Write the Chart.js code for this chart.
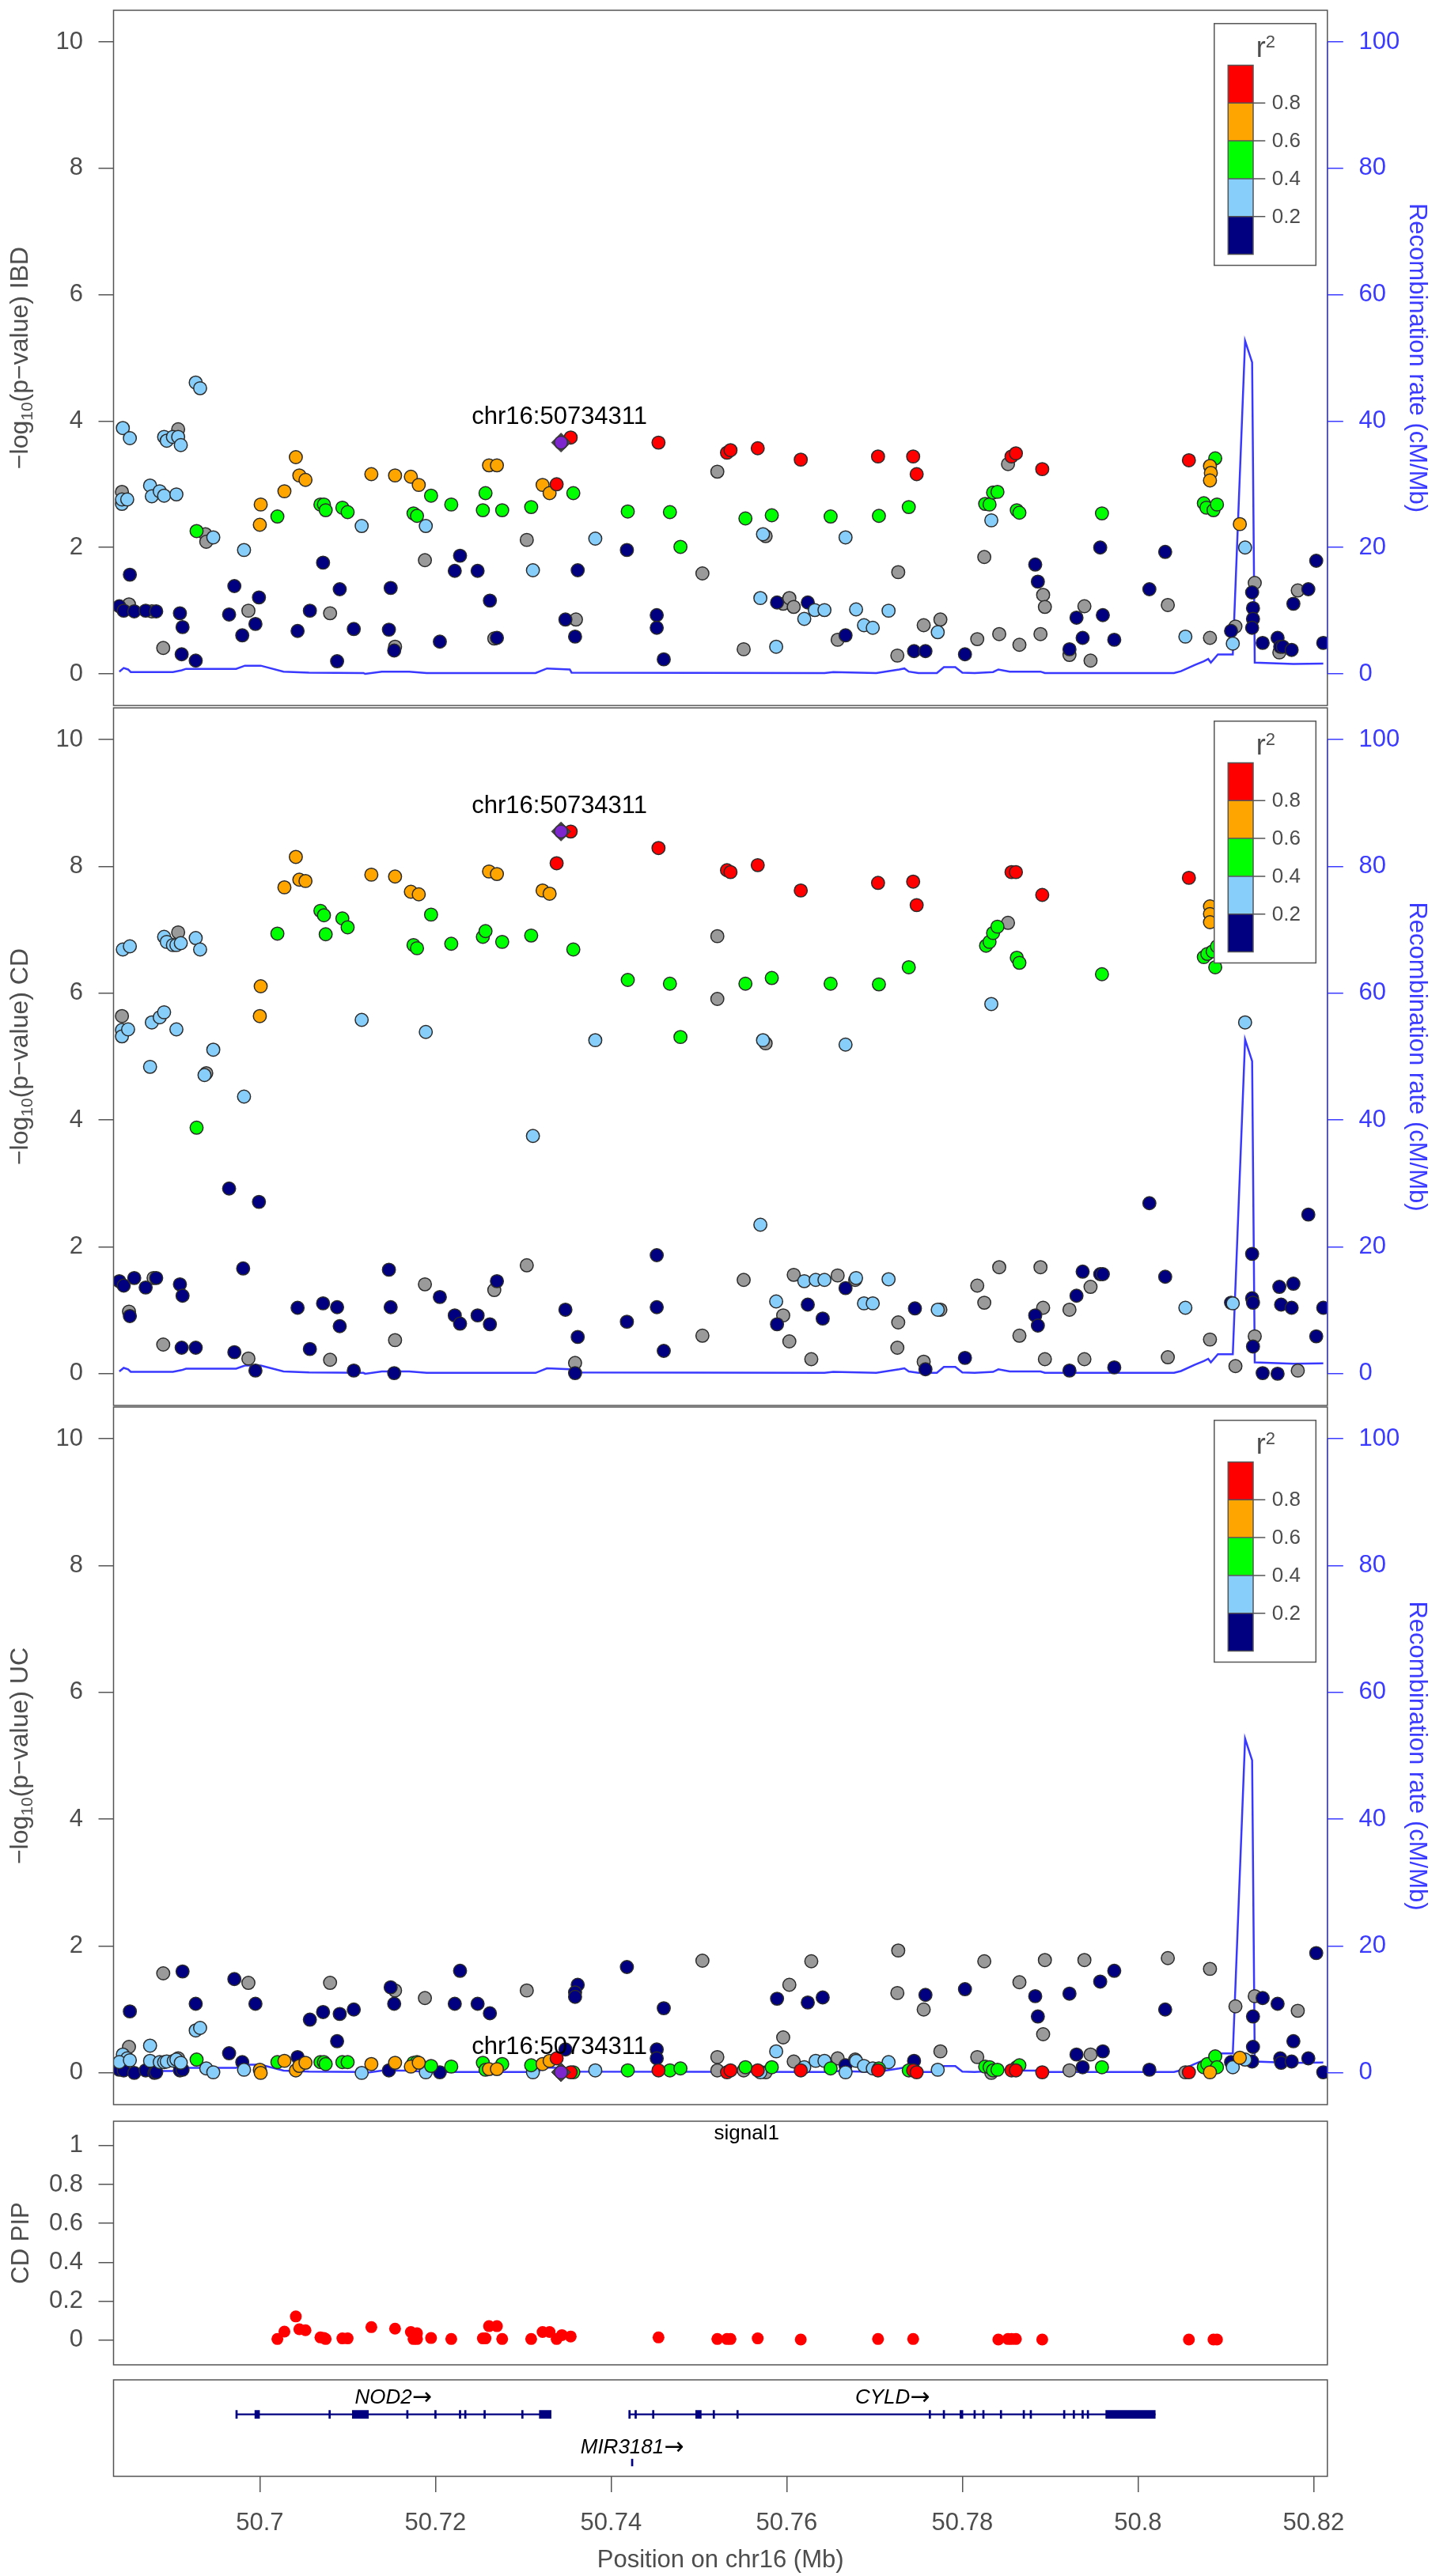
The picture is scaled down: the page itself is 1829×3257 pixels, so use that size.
<!DOCTYPE html>
<html>
<head>
<meta charset="utf-8">
<script src="https://cdn.jsdelivr.net/npm/chart.js@4.4.1/dist/chart.umd.min.js"></script>
<style>
  html, body { margin: 0; padding: 0; background: #fff; }
  body { width: 1829px; height: 3257px; position: relative; overflow: hidden; }
  canvas { position: absolute; left: 0; }
</style>
</head>
<body>
<canvas id="ibdChart" width="1829" height="905" style="top:0px"></canvas>
<canvas id="cdChart" width="1829" height="910" style="top:880px"></canvas>
<canvas id="ucChart" width="1829" height="910" style="top:1764px"></canvas>
<canvas id="pipChart" width="1829" height="330" style="top:2670px"></canvas>
<canvas id="geneChart" width="1829" height="261" style="top:2996px"></canvas>
<script>

// TICKS

const xTicks = [50.7, 50.72, 50.74, 50.76, 50.78, 50.8, 50.82];
const yTicks = [0, 2, 4, 6, 8, 10];
const recTicks = [0, 20, 40, 60, 80, 100];
const pipTicks = [0, 0.2, 0.4, 0.6, 0.8, 1];
const legendBreaks = ["0.8", "0.6", "0.4", "0.2"];


// LEAD SNP

const leadName = "chr16:50734311";
const leadPos = 50.7343;
const leadIbd = 3.66;
const leadCd = 8.55;
const leadUc = 0.01;


// SNPS  [position Mb, -log10 p, r2 class]
// r2 class: n <0.2, l 0.2-0.4, g 0.4-0.6, o 0.6-0.8, r >0.8, x no LD

const ibdSnps = [
  [50.6844,3.89,'l'],[50.6852,3.73,'l'],[50.6843,2.88,'x'],[50.6843,2.69,'l'],[50.6843,2.76,'l'],
  [50.6849,2.76,'l'],[50.6852,1.57,'n'],[50.6840,1.07,'n'],[50.6845,1.00,'n'],[50.6851,1.10,'x'],
  [50.6857,0.99,'n'],[50.6870,1.00,'n'],[50.6877,0.99,'x'],[50.6882,0.99,'n'],[50.6890,0.41,'x'],
  [50.6909,0.96,'n'],[50.6912,0.74,'n'],[50.6911,0.31,'n'],[50.6927,0.21,'n'],[50.6875,2.98,'l'],
  [50.6877,2.81,'l'],[50.6886,2.89,'l'],[50.6891,2.82,'l'],[50.6905,2.84,'l'],[50.6891,3.75,'l'],
  [50.6894,3.69,'l'],[50.6901,3.75,'l'],[50.6907,3.87,'x'],[50.6907,3.75,'l'],[50.6910,3.62,'l'],
  [50.6927,4.61,'l'],[50.6932,4.52,'l'],[50.6928,2.26,'g'],[50.6938,2.21,'x'],[50.6939,2.09,'x'],
  [50.6947,2.16,'l'],[50.6982,1.96,'l'],[50.6965,0.94,'n'],[50.6971,1.39,'n'],[50.6987,1.00,'x'],
  [50.6980,0.61,'n'],[50.6995,0.79,'n'],[50.6999,1.21,'n'],[50.7001,2.68,'o'],[50.7000,2.36,'o'],
  [50.7020,2.49,'g'],[50.7028,2.89,'o'],[50.7041,3.43,'o'],[50.7045,3.14,'o'],[50.7052,3.07,'o'],
  [50.7043,0.68,'n'],[50.7057,1.00,'n'],[50.7080,0.96,'x'],[50.7072,1.76,'n'],[50.7091,1.34,'n'],
  [50.7088,0.20,'n'],[50.7107,0.71,'n'],[50.7069,2.68,'g'],[50.7073,2.68,'g'],[50.7075,2.59,'g'],
  [50.7094,2.63,'g'],[50.7100,2.56,'g'],[50.7116,2.34,'l'],[50.7127,3.16,'o'],[50.7149,1.36,'n'],
  [50.7147,0.70,'n'],[50.7154,0.43,'x'],[50.7153,0.37,'n'],[50.7154,3.14,'o'],[50.7172,3.12,'o'],
  [50.7181,2.99,'o'],[50.7195,2.82,'g'],[50.7175,2.54,'g'],[50.7179,2.50,'g'],[50.7189,2.34,'l'],
  [50.7188,1.80,'x'],[50.7205,0.51,'n'],[50.7218,2.68,'g'],[50.7222,1.63,'n'],[50.7228,1.87,'n'],
  [50.7248,1.63,'n'],[50.7262,1.16,'n'],[50.7267,0.56,'x'],[50.7270,0.57,'n'],[50.7257,2.86,'g'],
  [50.7254,2.59,'g'],[50.7261,3.30,'o'],[50.7270,3.30,'o'],[50.7276,2.59,'g'],[50.7304,2.12,'x'],
  [50.7311,1.64,'l'],[50.7309,2.64,'g'],[50.7322,2.99,'o'],[50.7330,2.86,'o'],[50.7338,3.00,'r'],
  [50.7354,3.74,'r'],[50.7357,2.86,'g'],[50.7362,1.64,'n'],[50.7348,0.86,'n'],[50.7360,0.86,'x'],
  [50.7359,0.59,'n'],[50.7382,2.14,'l'],[50.7419,2.57,'g'],[50.7418,1.96,'n'],[50.7454,3.66,'r'],
  [50.7452,0.93,'n'],[50.7452,0.73,'n'],[50.7460,0.23,'n'],[50.7467,2.56,'g'],[50.7479,2.01,'g'],
  [50.7504,1.59,'x'],[50.7521,3.20,'x'],[50.7532,3.50,'r'],[50.7536,3.54,'r'],[50.7567,3.57,'r'],
  [50.7616,3.39,'r'],[50.7553,2.46,'g'],[50.7583,2.51,'g'],[50.7573,2.21,'l'],[50.7576,2.18,'x'],
  [50.7570,1.20,'l'],[50.7589,1.13,'n'],[50.7596,1.11,'x'],[50.7603,1.20,'x'],[50.7608,1.06,'x'],
  [50.7624,1.13,'n'],[50.7620,0.87,'l'],[50.7632,1.01,'l'],[50.7643,1.01,'l'],[50.7551,0.39,'x'],
  [50.7588,0.43,'l'],[50.7650,2.49,'g'],[50.7667,2.16,'l'],[50.7658,0.54,'x'],[50.7667,0.61,'n'],
  [50.7679,1.02,'l'],[50.7688,0.77,'l'],[50.7698,0.73,'l'],[50.7716,1.00,'l'],[50.7704,3.44,'r'],
  [50.7705,2.50,'g'],[50.7727,1.61,'x'],[50.7726,0.29,'x'],[50.7745,0.36,'n'],[50.7758,0.36,'n'],
  [50.7744,3.44,'r'],[50.7748,3.16,'r'],[50.7739,2.64,'g'],[50.7756,0.77,'x'],[50.7775,0.86,'x'],
  [50.7772,0.66,'l'],[50.7803,0.31,'n'],[50.7817,0.55,'x'],[50.7842,0.63,'x'],[50.7825,1.85,'x'],
  [50.7826,2.69,'g'],[50.7831,2.68,'g'],[50.7835,2.87,'g'],[50.7840,2.88,'g'],[50.7833,2.43,'l'],
  [50.7852,3.32,'x'],[50.7856,3.44,'r'],[50.7861,3.49,'r'],[50.7862,2.59,'g'],[50.7865,2.55,'g'],
  [50.7891,3.24,'r'],[50.7883,1.73,'n'],[50.7886,1.46,'n'],[50.7892,1.25,'x'],[50.7894,1.06,'x'],
  [50.7865,0.46,'x'],[50.7889,0.63,'x'],[50.7922,0.39,'n'],[50.7922,0.30,'x'],[50.7930,0.89,'n'],
  [50.7939,1.07,'x'],[50.7937,0.57,'n'],[50.7946,0.21,'x'],[50.7960,0.93,'n'],[50.7973,0.54,'n'],
  [50.7959,2.54,'g'],[50.7957,2.00,'n'],[50.8013,1.34,'n'],[50.8031,1.93,'n'],[50.8034,1.09,'x'],
  [50.8058,3.38,'r'],[50.8054,0.59,'l'],[50.8082,0.57,'x'],[50.8082,3.29,'o'],[50.8083,3.18,'o'],
  [50.8082,3.06,'o'],[50.8088,3.41,'g'],[50.8075,2.70,'g'],[50.8078,2.63,'g'],[50.8086,2.59,'g'],
  [50.8090,2.68,'g'],[50.8116,2.37,'o'],[50.8122,2.00,'l'],[50.8106,0.68,'n'],[50.8111,0.75,'x'],
  [50.8108,0.48,'l'],[50.8133,1.44,'x'],[50.8130,1.29,'n'],[50.8131,1.04,'n'],[50.8131,0.87,'n'],
  [50.8130,0.73,'n'],[50.8142,0.49,'n'],[50.8159,0.57,'n'],[50.8162,0.43,'n'],[50.8161,0.34,'x'],
  [50.8165,0.43,'n'],[50.8175,0.38,'n'],[50.8182,1.32,'x'],[50.8177,1.11,'n'],[50.8194,1.34,'n'],
  [50.8203,1.79,'n'],[50.8211,0.49,'n']
];

const cdSnps = [
  [50.6844,6.69,'l'],[50.6852,6.74,'l'],[50.6843,5.64,'x'],[50.6843,5.42,'l'],[50.6843,5.32,'l'],
  [50.6850,5.43,'l'],[50.6877,5.54,'l'],[50.6886,5.62,'l'],[50.6891,5.70,'l'],[50.6875,4.84,'l'],
  [50.6905,5.43,'l'],[50.6891,6.89,'l'],[50.6894,6.81,'l'],[50.6901,6.76,'l'],[50.6905,6.76,'l'],
  [50.6907,6.96,'x'],[50.6910,6.79,'l'],[50.6927,6.87,'l'],[50.6932,6.69,'l'],[50.6939,4.74,'x'],
  [50.6937,4.71,'l'],[50.6947,5.11,'l'],[50.6928,3.88,'g'],[50.6982,4.37,'l'],[50.6965,2.92,'n'],
  [50.6999,2.71,'n'],[50.6981,1.66,'n'],[50.6840,1.46,'n'],[50.6845,1.39,'n'],[50.6857,1.51,'n'],
  [50.6870,1.36,'n'],[50.6879,1.51,'x'],[50.6882,1.51,'n'],[50.6851,0.98,'x'],[50.6852,0.91,'n'],
  [50.6890,0.46,'x'],[50.6909,1.41,'n'],[50.6912,1.23,'n'],[50.6911,0.41,'n'],[50.6927,0.41,'n'],
  [50.6971,0.34,'n'],[50.6987,0.24,'x'],[50.6995,0.05,'n'],[50.7001,6.11,'o'],[50.7000,5.64,'o'],
  [50.7020,6.94,'g'],[50.7028,7.67,'o'],[50.7041,8.15,'o'],[50.7045,7.79,'o'],[50.7052,7.77,'o'],
  [50.7069,7.30,'g'],[50.7073,7.23,'g'],[50.7075,6.93,'g'],[50.7094,7.18,'g'],[50.7100,7.04,'g'],
  [50.7043,1.04,'n'],[50.7057,0.39,'n'],[50.7072,1.11,'n'],[50.7080,0.22,'x'],[50.7088,1.05,'n'],
  [50.7091,0.75,'n'],[50.7107,0.05,'n'],[50.7116,5.58,'l'],[50.7127,7.87,'o'],[50.7154,7.84,'o'],
  [50.7172,7.60,'o'],[50.7181,7.56,'o'],[50.7195,7.24,'g'],[50.7175,6.76,'g'],[50.7179,6.71,'g'],
  [50.7189,5.39,'l'],[50.7147,1.64,'n'],[50.7149,1.05,'n'],[50.7154,0.53,'x'],[50.7153,0.01,'n'],
  [50.7188,1.41,'x'],[50.7205,1.21,'n'],[50.7222,0.92,'n'],[50.7228,0.79,'n'],[50.7218,6.78,'g'],
  [50.7248,0.92,'n'],[50.7262,0.78,'n'],[50.7267,1.32,'x'],[50.7270,1.46,'n'],[50.7254,6.89,'g'],
  [50.7257,6.98,'g'],[50.7261,7.92,'o'],[50.7270,7.88,'o'],[50.7276,6.81,'g'],[50.7304,1.71,'x'],
  [50.7311,3.75,'l'],[50.7309,6.91,'g'],[50.7322,7.62,'o'],[50.7330,7.57,'o'],[50.7338,8.05,'r'],
  [50.7354,8.55,'r'],[50.7357,6.69,'g'],[50.7348,1.01,'n'],[50.7362,0.58,'n'],[50.7359,0.17,'x'],
  [50.7359,0.01,'n'],[50.7382,5.26,'l'],[50.7419,6.21,'g'],[50.7467,6.15,'g'],[50.7479,5.31,'g'],
  [50.7454,8.29,'r'],[50.7418,0.82,'n'],[50.7452,1.87,'n'],[50.7452,1.05,'n'],[50.7460,0.36,'n'],
  [50.7504,0.60,'x'],[50.7521,6.90,'x'],[50.7521,5.91,'x'],[50.7532,7.94,'r'],[50.7536,7.91,'r'],
  [50.7567,8.02,'r'],[50.7616,7.62,'r'],[50.7704,7.74,'r'],[50.7744,7.76,'r'],[50.7748,7.39,'r'],
  [50.7856,7.91,'r'],[50.7861,7.91,'r'],[50.7891,7.55,'r'],[50.8058,7.82,'r'],[50.7553,6.15,'g'],
  [50.7583,6.24,'g'],[50.7650,6.15,'g'],[50.7705,6.14,'g'],[50.7739,6.41,'g'],[50.7959,6.30,'g'],
  [50.7573,5.26,'l'],[50.7576,5.21,'x'],[50.7667,5.19,'l'],[50.7833,5.83,'l'],[50.7570,2.35,'l'],
  [50.8122,5.54,'l'],[50.7827,6.75,'g'],[50.7831,6.81,'g'],[50.7835,6.95,'g'],[50.7840,7.05,'g'],
  [50.7852,7.11,'x'],[50.7862,6.56,'g'],[50.7865,6.48,'g'],[50.8082,7.37,'o'],[50.8082,7.25,'o'],
  [50.8082,7.12,'o'],[50.8075,6.57,'g'],[50.8079,6.62,'g'],[50.8085,6.66,'g'],[50.8088,6.41,'g'],
  [50.8090,6.74,'g'],[50.7551,1.48,'x'],[50.7608,1.56,'x'],[50.7620,1.46,'l'],[50.7633,1.48,'l'],
  [50.7643,1.48,'l'],[50.7658,1.55,'x'],[50.7667,1.35,'n'],[50.7679,1.51,'l'],[50.7678,1.48,'x'],
  [50.7688,1.11,'l'],[50.7698,1.11,'l'],[50.7716,1.49,'l'],[50.7588,1.14,'l'],[50.7589,0.78,'n'],
  [50.7596,0.92,'x'],[50.7603,0.51,'x'],[50.7624,1.09,'n'],[50.7641,0.87,'n'],[50.7628,0.23,'x'],
  [50.7727,0.81,'x'],[50.7726,0.41,'x'],[50.7746,1.03,'n'],[50.7756,0.19,'x'],[50.7758,0.07,'n'],
  [50.7772,1.01,'l'],[50.7775,1.01,'x'],[50.7803,0.25,'n'],[50.7817,1.39,'x'],[50.7825,1.12,'x'],
  [50.7842,1.68,'x'],[50.7865,0.60,'x'],[50.7889,1.68,'x'],[50.7892,1.04,'x'],[50.7883,0.92,'n'],
  [50.7886,0.76,'n'],[50.7894,0.23,'x'],[50.7922,0.05,'n'],[50.7922,1.01,'x'],[50.7930,1.23,'n'],
  [50.7937,1.61,'n'],[50.7946,1.37,'x'],[50.7957,1.57,'n'],[50.7960,1.57,'n'],[50.7939,0.23,'x'],
  [50.7973,0.10,'n'],[50.8013,2.69,'n'],[50.8031,1.53,'n'],[50.8034,0.26,'x'],[50.8054,1.04,'l'],
  [50.8082,0.54,'x'],[50.8106,1.12,'n'],[50.8108,1.11,'l'],[50.8111,0.12,'x'],[50.8130,1.89,'n'],
  [50.8130,1.19,'n'],[50.8131,1.12,'n'],[50.8133,0.59,'x'],[50.8131,0.43,'n'],[50.8142,0.01,'n'],
  [50.8159,0.00,'n'],[50.8161,1.37,'n'],[50.8163,1.09,'n'],[50.8175,1.04,'n'],[50.8177,1.42,'n'],
  [50.8182,0.05,'x'],[50.8194,2.51,'n'],[50.8203,0.59,'n'],[50.8211,1.04,'n']
];

const ucSnps = [
  [50.6852,0.97,'n'],[50.6851,0.41,'x'],[50.6875,0.43,'l'],[50.6890,1.57,'x'],[50.6912,1.60,'n'],
  [50.6927,1.09,'n'],[50.6927,0.67,'l'],[50.6932,0.71,'l'],[50.6844,0.29,'l'],[50.6849,0.23,'l'],
  [50.6840,0.17,'l'],[50.6852,0.20,'l'],[50.6840,0.05,'n'],[50.6845,0.04,'n'],[50.6857,0.00,'n'],
  [50.6870,0.04,'n'],[50.6880,0.00,'n'],[50.6882,0.01,'n'],[50.6875,0.19,'l'],[50.6886,0.17,'l'],
  [50.6891,0.17,'l'],[50.6894,0.18,'l'],[50.6902,0.19,'l'],[50.6905,0.21,'l'],[50.6907,0.23,'x'],
  [50.6910,0.16,'l'],[50.6909,0.04,'n'],[50.6912,0.05,'n'],[50.6928,0.21,'g'],[50.6939,0.07,'l'],
  [50.6947,0.01,'l'],[50.6965,0.31,'n'],[50.6971,1.48,'n'],[50.6987,1.42,'x'],[50.6995,1.09,'n'],
  [50.6980,0.17,'n'],[50.6982,0.05,'l'],[50.7000,0.05,'o'],[50.7001,0.00,'o'],[50.7020,0.17,'g'],
  [50.7028,0.19,'o'],[50.7041,0.04,'o'],[50.7043,0.25,'n'],[50.7045,0.11,'o'],[50.7052,0.16,'o'],
  [50.7057,0.84,'n'],[50.7072,0.96,'n'],[50.7080,1.42,'x'],[50.7088,0.50,'n'],[50.7091,0.93,'n'],
  [50.7107,1.00,'n'],[50.7069,0.17,'g'],[50.7073,0.17,'g'],[50.7075,0.14,'g'],[50.7094,0.17,'g'],
  [50.7100,0.17,'g'],[50.7116,0.00,'l'],[50.7127,0.14,'o'],[50.7149,1.35,'n'],[50.7154,1.30,'x'],
  [50.7153,1.09,'n'],[50.7147,0.04,'n'],[50.7154,0.16,'o'],[50.7172,0.10,'o'],[50.7181,0.16,'o'],
  [50.7175,0.16,'g'],[50.7179,0.17,'g'],[50.7195,0.11,'g'],[50.7189,0.01,'l'],[50.7188,1.18,'x'],
  [50.7205,0.01,'n'],[50.7218,0.10,'g'],[50.7222,1.09,'n'],[50.7228,1.61,'n'],[50.7248,1.09,'n'],
  [50.7262,0.94,'n'],[50.7254,0.16,'g'],[50.7257,0.05,'g'],[50.7261,0.06,'o'],[50.7270,0.06,'o'],
  [50.7276,0.14,'g'],[50.7304,1.30,'x'],[50.7311,0.01,'l'],[50.7309,0.12,'g'],[50.7322,0.14,'o'],
  [50.7330,0.19,'o'],[50.7338,0.23,'r'],[50.7354,0.01,'r'],[50.7357,0.01,'g'],[50.7348,0.37,'n'],
  [50.7362,1.39,'n'],[50.7359,1.27,'n'],[50.7359,1.20,'n'],[50.7382,0.04,'l'],[50.7419,0.04,'g'],
  [50.7418,1.67,'n'],[50.7454,0.04,'r'],[50.7452,0.37,'n'],[50.7452,0.23,'n'],[50.7460,1.02,'n'],
  [50.7467,0.04,'g'],[50.7479,0.07,'g'],[50.7504,1.77,'x'],[50.7521,0.25,'x'],[50.7521,0.04,'x'],
  [50.7532,0.01,'r'],[50.7536,0.04,'r'],[50.7553,0.09,'g'],[50.7551,0.04,'x'],[50.7567,0.04,'r'],
  [50.7570,0.01,'l'],[50.7576,0.01,'x'],[50.7583,0.09,'g'],[50.7589,1.17,'n'],[50.7596,0.56,'x'],
  [50.7588,0.34,'l'],[50.7603,1.39,'x'],[50.7608,0.18,'x'],[50.7616,0.04,'r'],[50.7620,0.09,'l'],
  [50.7624,1.11,'n'],[50.7628,1.76,'x'],[50.7641,1.19,'n'],[50.7633,0.19,'l'],[50.7643,0.19,'l'],
  [50.7650,0.07,'g'],[50.7658,0.23,'x'],[50.7667,0.12,'n'],[50.7667,0.01,'l'],[50.7679,0.19,'l'],
  [50.7678,0.21,'x'],[50.7688,0.11,'l'],[50.7698,0.07,'l'],[50.7705,0.07,'g'],[50.7704,0.04,'r'],
  [50.7716,0.17,'l'],[50.7727,1.93,'x'],[50.7726,1.26,'x'],[50.7745,0.19,'n'],[50.7758,1.23,'n'],
  [50.7756,1.00,'x'],[50.7739,0.04,'g'],[50.7744,0.04,'r'],[50.7748,0.01,'r'],[50.7772,0.05,'l'],
  [50.7775,0.34,'x'],[50.7803,1.32,'n'],[50.7817,0.25,'x'],[50.7825,1.76,'x'],[50.7826,0.10,'g'],
  [50.7831,0.09,'g'],[50.7835,0.04,'g'],[50.7840,0.05,'g'],[50.7833,0.00,'x'],[50.7856,0.04,'r'],
  [50.7861,0.04,'r'],[50.7862,0.09,'g'],[50.7865,0.12,'g'],[50.7865,1.43,'x'],[50.7883,1.21,'n'],
  [50.7886,0.89,'n'],[50.7892,0.61,'x'],[50.7894,1.78,'x'],[50.7891,0.01,'r'],[50.7922,1.25,'n'],
  [50.7922,0.04,'x'],[50.7930,0.29,'n'],[50.7937,0.09,'n'],[50.7939,1.78,'x'],[50.7946,0.29,'x'],
  [50.7957,1.44,'n'],[50.7960,0.34,'n'],[50.7959,0.09,'g'],[50.7973,1.61,'n'],[50.8013,0.05,'n'],
  [50.8031,1.00,'n'],[50.8034,1.81,'x'],[50.8054,0.01,'x'],[50.8058,0.01,'r'],[50.8082,1.64,'x'],
  [50.8075,0.09,'g'],[50.8079,0.14,'g'],[50.8088,0.26,'g'],[50.8090,0.09,'g'],[50.8082,0.01,'o'],
  [50.8116,0.24,'o'],[50.8108,0.09,'l'],[50.8106,0.17,'n'],[50.8111,1.05,'x'],[50.8122,0.21,'l'],
  [50.8133,1.21,'x'],[50.8142,1.18,'n'],[50.8131,0.89,'n'],[50.8131,0.41,'n'],[50.8130,0.18,'n'],
  [50.8159,1.09,'n'],[50.8162,0.23,'n'],[50.8163,0.16,'n'],[50.8175,0.18,'n'],[50.8177,0.50,'n'],
  [50.8182,0.98,'x'],[50.8194,0.23,'n'],[50.8203,1.89,'n'],[50.8211,0.01,'n']
];


// CD PIP  [position Mb, PIP]

const pipPoints = [
  [50.7020,0.005],[50.7028,0.043],[50.7041,0.121],[50.7045,0.055],[50.7052,0.050],
  [50.7069,0.013],[50.7073,0.010],[50.7075,0.005],[50.7094,0.008],[50.7100,0.008],
  [50.7127,0.066],[50.7154,0.058],[50.7172,0.041],[50.7175,0.005],[50.7179,0.035],
  [50.7179,0.005],[50.7195,0.010],[50.7218,0.005],[50.7254,0.008],[50.7257,0.008],
  [50.7261,0.071],[50.7270,0.071],[50.7276,0.005],[50.7309,0.005],[50.7322,0.041],
  [50.7330,0.041],[50.7338,0.005],[50.7344,0.025],[50.7354,0.018],[50.7454,0.013],
  [50.7521,0.005],[50.7532,0.005],[50.7536,0.005],[50.7567,0.008],[50.7616,0.002],
  [50.7704,0.005],[50.7744,0.005],[50.7841,0.002],[50.7852,0.005],[50.7856,0.005],
  [50.7861,0.005],[50.7891,0.002],[50.8058,0.002],[50.8086,0.002],[50.8090,0.002]
];


// RECOMBINATION RATE (cM/Mb)

const recPos = [
  50.6840, 50.6845, 50.6850, 50.6853, 50.6901, 50.6911, 50.6916, 50.6973, 50.6983, 50.7001,
  50.7027, 50.7056, 50.7118, 50.7120, 50.7139, 50.7170, 50.7190, 50.7314, 50.7327, 50.7353,
  50.7355, 50.7643, 50.7653, 50.7702, 50.7728, 50.7734, 50.7739, 50.7750, 50.7771, 50.7779,
  50.7792, 50.7800, 50.7814, 50.7835, 50.7841, 50.7854, 50.7889, 50.7894, 50.8041, 50.8049,
  50.8065, 50.8075, 50.8080, 50.8083, 50.8091, 50.8108, 50.8122, 50.8130, 50.8133, 50.8177,
  50.8211
];
const recRate = [
  0.36, 0.93, 0.70, 0.30, 0.30, 0.57, 0.80, 0.80, 1.30, 1.30,
  0.36, 0.20, 0.14, 0.00, 0.36, 0.36, 0.14, 0.14, 0.86, 0.70,
  0.20, 0.14, 0.30, 0.14, 0.70, 0.86, 0.36, 0.14, 0.14, 1.07,
  1.07, 0.20, 0.14, 0.30, 0.70, 0.36, 0.36, 0.14, 0.14, 0.43,
  1.43, 2.00, 2.36, 1.79, 3.07, 3.07, 52.7, 49.3, 1.79, 1.57,
  1.64
];


// GENES  [exon start, exon end] in Mb

const nod2Exons = [
  [50.6973,50.6974],[50.6994,50.7000],[50.7079,50.7080],[50.7105,50.7124],[50.7167,50.7169],
  [50.7199,50.7201],[50.7227,50.7229],[50.7233,50.7235],[50.7255,50.7257],[50.7298,50.7300],
  [50.7318,50.7332]
];
const cyldExons = [
  [50.7420,50.7422],[50.7427,50.7429],[50.7447,50.7449],[50.7496,50.7503],[50.7516,50.7518],
  [50.7543,50.7545],[50.7762,50.7764],[50.7778,50.7780],[50.7797,50.7801],[50.7813,50.7815],
  [50.7823,50.7825],[50.7843,50.7845],[50.7869,50.7871],[50.7877,50.7879],[50.7915,50.7917],
  [50.7926,50.7928],[50.7936,50.7938],[50.7942,50.7944],[50.7963,50.8020]
];
const mirExons = [[50.7423,50.7425]];



// STYLE

const FONT = "'Liberation Sans', Arial, Helvetica, sans-serif";
const AXIS_GREY = "#4d4d4d";
const BOX_GREY = "#555555";
const REC_BLUE = "#3b3bff";
const LEFT_W = 143.5;
const RIGHT_W = 151.2;
const X_MIN = 50.68334;
const X_MAX = 50.82157;
const DOT_R = 8.2;

const ldColors = {
  x: "#9a9a9a",
  n: "#000080",
  l: "#87cefa",
  g: "#00ff00",
  o: "#ffa500",
  r: "#ff0000"
};

// drawn top first
const ldOrder = ["r", "o", "g", "l", "n", "x"];

const genes = [
  { name: "NOD2", start: 50.6973, end: 50.7331, row: 0.642, exons: nod2Exons, line: true },
  { name: "CYLD", start: 50.7421, end: 50.8020, row: 0.642, exons: cyldExons, line: true },
  { name: "MIR3181", start: 50.7423, end: 50.7425, row: 0.143, exons: mirExons, line: false }
];



// HELPERS

function drawParts(ctx, parts, x, y, rot, color) {

  ctx.save();
  ctx.translate(x, y);
  ctx.rotate(rot);
  ctx.fillStyle = color;
  ctx.textAlign = "left";
  ctx.textBaseline = "middle";

  let total = 0;
  parts.forEach(p => {
    ctx.font = p.font;
    p.w = ctx.measureText(p.t).width;
    total += p.w;
  });

  let cx = -total / 2;
  parts.forEach(p => {
    ctx.font = p.font;
    ctx.fillText(p.t, cx, p.dy || 0);
    cx += p.w;
  });

  ctx.restore();
}


function drawLegend(ctx, a) {

  const R = a.right;
  const T = a.top;

  ctx.fillStyle = "#ffffff";
  ctx.fillRect(R - 143, T + 16.8, 128.5, 305.7);
  ctx.strokeStyle = BOX_GREY;
  ctx.lineWidth = 1.5;
  ctx.strokeRect(R - 143, T + 16.8, 128.5, 305.7);

  const cols = ["r", "o", "g", "l", "n"].map(k => ldColors[k]);
  const bx = R - 125.5, bw = 31.7, by = T + 69.5, sh = 47.8;

  cols.forEach((c, i) => {
    ctx.fillStyle = c;
    ctx.fillRect(bx, by + i * sh, bw, sh);
  });
  ctx.strokeRect(bx, by, bw, sh * 5);

  ctx.font = `26px ${FONT}`;
  ctx.fillStyle = AXIS_GREY;
  ctx.textAlign = "left";
  ctx.textBaseline = "middle";

  legendBreaks.forEach((v, i) => {
    const y = by + (i + 1) * sh;
    ctx.beginPath();
    ctx.moveTo(bx, y);
    ctx.lineTo(R - 78.5, y);
    ctx.stroke();
    ctx.fillText(v, R - 70, y + 1);
  });

  ctx.textBaseline = "alphabetic";
  ctx.font = `36px ${FONT}`;
  ctx.fillText("r", R - 90, T + 58.5);
  ctx.font = `22px ${FONT}`;
  ctx.fillText("2", R - 78, T + 46.8);
}


function drawGenes(chart) {

  const { ctx } = chart;
  const xs = chart.scales.x;
  const ys = chart.scales.y;

  genes.forEach(g => {

    const y = ys.getPixelForValue(g.row);

    ctx.strokeStyle = "#000080";
    ctx.fillStyle = "#000080";

    if (g.line) {
      ctx.lineWidth = 2.2;
      ctx.beginPath();
      ctx.moveTo(xs.getPixelForValue(g.start), y);
      ctx.lineTo(xs.getPixelForValue(g.end), y);
      ctx.stroke();
    }

    g.exons.forEach(([s, e]) => {
      let x0 = xs.getPixelForValue(s);
      let x1 = xs.getPixelForValue(e);
      if (x1 - x0 < 2.7) {
        const m = (x0 + x1) / 2;
        x0 = m - 1.35;
        x1 = m + 1.35;
      }
      const h = g.line ? 5.4 : 4.7;
      ctx.fillRect(x0, y - h, x1 - x0, h * 2);
    });

    drawParts(
      ctx,
      [
        { t: g.name, font: `italic 26px ${FONT}` },
        { t: "\u2192", font: "30px 'DejaVu Sans', sans-serif", dy: 1 }
      ],
      xs.getPixelForValue((g.start + g.end) / 2),
      y - (g.line ? 21 : 19),
      0,
      "#000000"
    );
  });
}


function makeDecor(o) {

  return {
    id: "decor",
    afterDatasetsDraw(chart) {

      const { ctx, chartArea: a } = chart;

      ctx.save();

      // BOX
      ctx.strokeStyle = BOX_GREY;
      ctx.lineWidth = 1.5;
      ctx.strokeRect(a.left, a.top, a.right - a.left, a.bottom - a.top);

      // RECOMBINATION AXIS LINE
      if (o.recAxis) {
        const y2 = chart.scales.y2;
        ctx.strokeStyle = REC_BLUE;
        ctx.beginPath();
        ctx.moveTo(a.right, y2.getPixelForValue(recTicks[0]));
        ctx.lineTo(a.right, y2.getPixelForValue(recTicks[recTicks.length - 1]));
        ctx.stroke();
      }

      if (o.legend) drawLegend(ctx, a);

      // LEAD SNP LABEL
      if (o.leadY !== undefined) {
        ctx.fillStyle = "#000000";
        ctx.font = `31px ${FONT}`;
        ctx.textAlign = "center";
        ctx.textBaseline = "middle";
        ctx.fillText(
          leadName,
          chart.scales.x.getPixelForValue(leadPos) - 2,
          chart.scales.y.getPixelForValue(o.leadY) - 32
        );
      }

      // Y TITLES
      const midY = (a.top + a.bottom) / 2;

      if (o.yTitle) {
        drawParts(ctx, o.yTitle, o.yTitleX, midY, -Math.PI / 2, AXIS_GREY);
      }

      if (o.rightTitle) {
        drawParts(
          ctx,
          [{ t: o.rightTitle, font: `31px ${FONT}` }],
          1791, midY, Math.PI / 2, REC_BLUE
        );
      }

      // PANEL NOTE
      if (o.note) {
        ctx.fillStyle = "#000000";
        ctx.font = `26px ${FONT}`;
        ctx.textAlign = "center";
        ctx.textBaseline = "middle";
        ctx.fillText(o.note, (a.left + a.right) / 2 + 33, a.top + 16);
      }

      if (o.genes) drawGenes(chart);

      if (o.xTitle) {
        ctx.fillStyle = AXIS_GREY;
        ctx.font = `31px ${FONT}`;
        ctx.textAlign = "center";
        ctx.textBaseline = "middle";
        ctx.fillText(o.xTitle, (a.left + a.right) / 2, a.bottom + 106);
      }

      ctx.restore();
    }
  };
}


function logTitle(trait) {

  return [
    { t: "\u2212log", font: `32px ${FONT}` },
    { t: "10", font: `21px ${FONT}`, dy: 9 },
    { t: "(p\u2212value) " + trait, font: `32px ${FONT}` }
  ];
}


// fixed axis width, no extra label padding
function fitY(width) {

  return s => {
    s.width = width;
    s.paddingTop = 0;
    s.paddingBottom = 0;
  };
}


function leftAxis(min, max, ticks, fmt) {

  return {
    position: "left",
    min: min,
    max: max,
    afterFit: fitY(LEFT_W),
    afterBuildTicks: s => { s.ticks = ticks.map(v => ({ value: v })); },
    ticks: {
      color: AXIS_GREY,
      font: { family: FONT, size: 31 },
      padding: 19.5,
      autoSkip: false,
      callback: fmt
    },
    grid: {
      drawOnChartArea: false,
      tickLength: 19,
      color: BOX_GREY,
      lineWidth: 1.5
    },
    border: { display: false }
  };
}


function hiddenX() {

  return {
    type: "linear",
    min: X_MIN,
    max: X_MAX,
    display: false
  };
}



// ASSOCIATION PANELS

function makeAssocChart(canvasId, snps, leadY, trait, padTop, padBottom) {

  const datasets = [];

  // lead SNP: purple dot over a dark diamond
  datasets.push({
    label: "lead",
    data: [{ x: leadPos, y: leadY }],
    pointRadius: DOT_R,
    backgroundColor: "#7d26cd",
    borderColor: "#333333",
    borderWidth: 1.5,
    order: 0,
    clip: 0
  });

  datasets.push({
    label: "leadDiamond",
    data: [{ x: leadPos, y: leadY }],
    pointStyle: "rectRot",
    pointRadius: 12,
    backgroundColor: "#444444",
    borderColor: "#333333",
    borderWidth: 1,
    order: 0.5,
    clip: 0
  });

  ldOrder.forEach((k, i) => {
    datasets.push({
      label: k,
      data: snps
        .filter(s => s[2] === k)
        .map(s => ({ x: s[0], y: s[1] })),
      pointRadius: DOT_R,
      backgroundColor: ldColors[k],
      borderColor: "#2b2b2b",
      borderWidth: 1.5,
      order: i + 1,
      clip: 0
    });
  });

  datasets.push({
    label: "recomb",
    data: recPos.map((p, i) => ({ x: p, y: recRate[i] })),
    yAxisID: "y2",
    showLine: true,
    pointRadius: 0,
    borderColor: "rgba(0,0,255,0.78)",
    borderWidth: 2.5,
    fill: false,
    order: 20,
    clip: 0
  });

  return new Chart(
    document.getElementById(canvasId),
    {
      type: "scatter",
      data: { datasets },
      options: {
        responsive: false,
        devicePixelRatio: 1,
        animation: false,
        events: [],
        layout: { padding: { top: padTop, bottom: padBottom, left: 0, right: 0 } },
        plugins: { legend: { display: false }, tooltip: { enabled: false } },
        scales: {
          x: hiddenX(),
          y: leftAxis(-0.5, 10.5, yTicks, v => String(v)),
          y2: {
            position: "right",
            min: -5,
            max: 105,
            afterFit: fitY(RIGHT_W),
            afterBuildTicks: s => { s.ticks = recTicks.map(v => ({ value: v })); },
            ticks: {
              color: REC_BLUE,
              font: { family: FONT, size: 31 },
              padding: 19.7,
              autoSkip: false
            },
            grid: {
              drawOnChartArea: false,
              tickLength: 20,
              color: REC_BLUE,
              lineWidth: 1.5
            },
            border: { display: false }
          }
        }
      },
      plugins: [
        makeDecor({
          recAxis: true,
          legend: true,
          leadY: leadY,
          yTitle: logTitle(trait),
          yTitleX: 26,
          rightTitle: "Recombination rate (cM/Mb)"
        })
      ]
    }
  );
}


makeAssocChart("ibdChart", ibdSnps, leadIbd, "IBD", 11.5, 10);
makeAssocChart("cdChart", cdSnps, leadCd, "CD", 15, 11);
makeAssocChart("ucChart", ucSnps, leadUc, "UC", 15, 12);



// PIP PANEL

new Chart(
  document.getElementById("pipChart"),
  {
    type: "scatter",
    data: {
      datasets: [{
        label: "signal1",
        data: pipPoints.map(p => ({ x: p[0], y: p[1] })),
        pointRadius: 7.5,
        backgroundColor: "#ff0000",
        borderWidth: 0,
        clip: 0
      }]
    },
    options: {
      responsive: false,
      devicePixelRatio: 1,
      animation: false,
      events: [],
      layout: { padding: { top: 12, bottom: 10, left: 0, right: RIGHT_W } },
      plugins: { legend: { display: false }, tooltip: { enabled: false } },
      scales: {
        x: hiddenX(),
        y: leftAxis(-0.128, 1.126, pipTicks, v => String(+v.toFixed(1)))
      }
    },
    plugins: [
      makeDecor({
        yTitle: [{ t: "CD PIP", font: `31px ${FONT}` }],
        yTitleX: 27.5,
        note: "signal1"
      })
    ]
  }
);



// GENE TRACK

new Chart(
  document.getElementById("geneChart"),
  {
    type: "scatter",
    data: { datasets: [{ data: [] }] },
    options: {
      responsive: false,
      devicePixelRatio: 1,
      animation: false,
      events: [],
      layout: { padding: { top: 13, bottom: 0, left: LEFT_W, right: RIGHT_W } },
      plugins: { legend: { display: false }, tooltip: { enabled: false } },
      scales: {
        x: {
          type: "linear",
          position: "bottom",
          min: X_MIN,
          max: X_MAX,
          afterFit: s => {
            s.height = 126;
            s.paddingLeft = 0;
            s.paddingRight = 0;
          },
          afterBuildTicks: s => { s.ticks = xTicks.map(v => ({ value: v })); },
          ticks: {
            color: AXIS_GREY,
            font: { family: FONT, size: 31 },
            padding: 21,
            maxRotation: 0,
            autoSkip: false,
            callback: v => String(+v.toFixed(2))
          },
          grid: {
            drawOnChartArea: false,
            tickLength: 20,
            color: BOX_GREY,
            lineWidth: 1.5
          },
          border: { display: false }
        },
        y: { min: 0, max: 1, display: false }
      }
    },
    plugins: [
      makeDecor({
        genes: true,
        xTitle: "Position on chr16 (Mb)"
      })
    ]
  }
);

</script>
</body>
</html>
